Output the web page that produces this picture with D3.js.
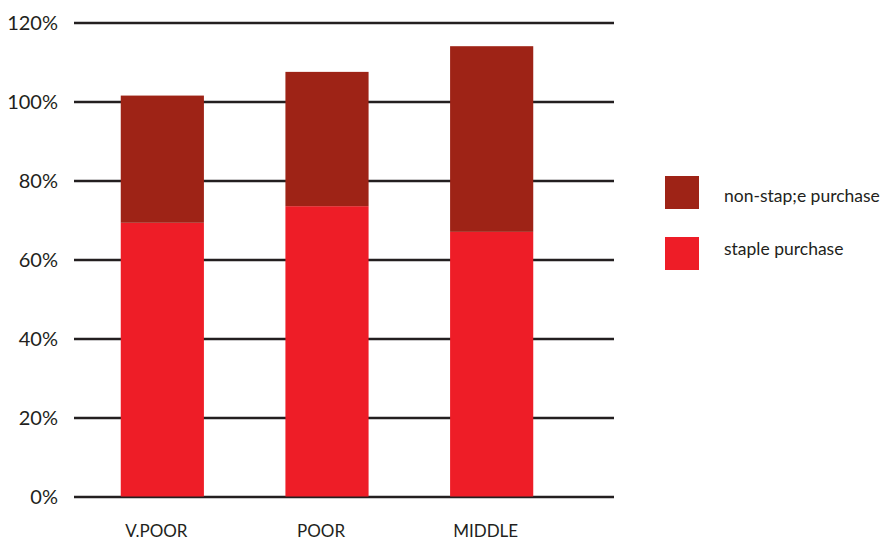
<!DOCTYPE html>
<html>
<head>
<meta charset="utf-8">
<script src="https://cdn.jsdelivr.net/npm/d3@7"></script>
<style>
  html, body { margin: 0; padding: 0; background: #fff; }
  svg text { font-family: Lato, "Open Sans", sans-serif; fill: #231F20; }
</style>
</head>
<body>
<svg id="chart" width="881" height="540"></svg>
<script>
// Household purchase shares by income group (percent)
const categories = ["V.POOR", "POOR", "MIDDLE"];
const staple = [69.3, 73.5, 67.0];
const nonStaple = [32.2, 34.0, 47.0];
const yTicks = [0, 20, 40, 60, 80, 100, 120];
const seriesNames = ["non-stap;e purchase", "staple purchase"];
const seriesColors = ["#9E2316", "#EE1D27"];

const svg = d3.select("#chart");

const x = d3.scaleBand()
  .domain(categories)
  .range([80, 574])
  .paddingInner(0.495)
  .paddingOuter(0.2475);

const y = d3.scaleLinear().domain([0, 120]).range([496.5, 22.5]);

// Horizontal gridlines with percentage labels
const yAxis = d3.axisLeft(y)
  .tickValues(yTicks)
  .tickFormat(d => d + "%")
  .tickSize(-540)
  .tickPadding(16);

const gy = svg.append("g")
  .attr("transform", "translate(74,0)")
  .call(yAxis);
gy.select(".domain").remove();
gy.selectAll(".tick line")
  .attr("stroke", "#231F20")
  .attr("stroke-width", 2.6);
gy.selectAll(".tick text")
  .attr("x", -16)
  .style("font-size", "20px")
  .attr("dy", "0.36em");

// Stacked bars
const rows = categories.map((c, i) => ({ cat: c, staple: staple[i], nonStaple: nonStaple[i] }));
const stack = d3.stack().keys(["staple", "nonStaple"]);
const layers = stack(rows);
const layerColor = { staple: seriesColors[1], nonStaple: seriesColors[0] };

svg.append("g").selectAll("g")
  .data(layers)
  .join("g")
  .attr("fill", d => layerColor[d.key])
  .selectAll("rect")
  .data(d => d)
  .join("rect")
  .attr("x", d => x(d.data.cat))
  .attr("width", x.bandwidth())
  .attr("y", d => y(d[1]))
  .attr("height", d => y(d[0]) - y(d[1]));

// Category labels
const xAxis = d3.axisBottom(x).tickSize(0).tickPadding(0);
const gx = svg.append("g")
  .attr("transform", "translate(-6,531)")
  .call(xAxis);
gx.select(".domain").remove();
gx.selectAll(".tick text")
  .style("font-size", "17px")
  .attr("dy", "0.35em");

// Legend
const legend = svg.append("g").attr("transform", "translate(665,176)");
const items = legend.selectAll("g")
  .data(seriesNames)
  .join("g")
  .attr("transform", (d, i) => `translate(0,${i * 61})`);
items.append("rect")
  .attr("width", 34)
  .attr("height", 33)
  .attr("fill", (d, i) => seriesColors[i]);
items.append("text")
  .attr("x", 59)
  .attr("y", (d, i) => i === 0 ? 26 : 18)
  .style("font-size", "17.5px")
  .text(d => d);
</script>
</body>
</html>
